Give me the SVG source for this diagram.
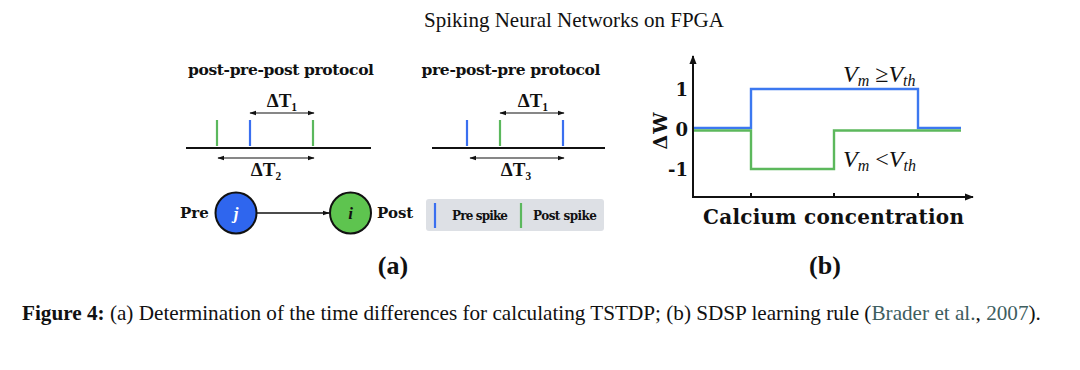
<svg xmlns="http://www.w3.org/2000/svg" width="1080" height="370" viewBox="0 0 1080 370">
<defs>
<style>
.serif{font-family:"Liberation Serif","DejaVu Serif",serif;fill:#111}
.b{font-weight:bold}
.pal{font-family:"DejaVu Serif","Liberation Serif",serif;font-weight:bold;fill:#111}
.heavy{font-family:"DejaVu Serif","Liberation Serif",serif;font-weight:bold;fill:#111}
.thin{stroke:#111;stroke-width:1.2;fill:none}
.base{stroke:#111;stroke-width:2.2}
.bl{stroke:#3a6ff0;stroke-width:2.2}
.gr{stroke:#5bb85d;stroke-width:2.2}
.plotb{stroke:#3c78f0;stroke-width:2.4;fill:none}
.plotg{stroke:#5cb85c;stroke-width:2.4;fill:none}
.axis{stroke:#111;stroke-width:2;fill:none}
</style>
<marker id="ah" viewBox="0 0 10 10" refX="9" refY="5" markerWidth="7" markerHeight="7" orient="auto-start-reverse" markerUnits="userSpaceOnUse"><path d="M0,1.5 L10,5 L0,8.5 z" fill="#111"/></marker>
<marker id="axh" viewBox="0 0 10 10" refX="9" refY="5" markerWidth="9" markerHeight="9" orient="auto" markerUnits="userSpaceOnUse"><path d="M0,1 L10,5 L0,9 z" fill="#111"/></marker>
</defs>
<rect width="1080" height="370" fill="#fff"/>
<text class="serif" x="574" y="27" font-size="21" text-anchor="middle">Spiking Neural Networks on FPGA</text>

<g id="panel-a-left">
<text class="pal" x="281" y="75" font-size="15.5" text-anchor="middle" textLength="186">post-pre-post protocol</text>
<text class="serif b" x="282" y="107" font-size="19" text-anchor="middle">ΔT₁</text>
<line class="bl" x1="250" y1="120" x2="250" y2="146"/>
<line class="gr" x1="217" y1="120" x2="217" y2="146"/>
<line class="gr" x1="313" y1="120" x2="313" y2="146"/>
<line class="base" x1="186" y1="148" x2="371" y2="148"/>
<text class="serif b" x="266" y="176" font-size="19" text-anchor="middle">ΔT₂</text>
</g>
<g id="panel-a-right">
<text class="pal" x="511" y="75" font-size="15.5" text-anchor="middle" textLength="179">pre-post-pre protocol</text>
<text class="serif b" x="533" y="107" font-size="19" text-anchor="middle">ΔT₁</text>
<line class="bl" x1="467" y1="120" x2="467" y2="146"/>
<line class="gr" x1="500" y1="120" x2="500" y2="146"/>
<line class="bl" x1="563" y1="120" x2="563" y2="146"/>
<line class="base" x1="432" y1="148" x2="605" y2="148"/>
<text class="serif b" x="516" y="176" font-size="19" text-anchor="middle">ΔT₃</text>
</g>
<g id="node-j">
<text class="pal" x="180" y="218" font-size="15">Pre</text>
<circle cx="236" cy="213" r="20.5" fill="#2f66ee" stroke="#111" stroke-width="2"/>
<text x="236" y="219" font-family="Liberation Serif,serif" font-style="italic" font-weight="bold" font-size="17" fill="#fff" text-anchor="middle">j</text>
</g>
<g id="node-i">
<circle cx="350.5" cy="213" r="20.5" fill="#5ec44f" stroke="#111" stroke-width="2"/>
<text x="350.5" y="219" font-family="Liberation Serif,serif" font-style="italic" font-weight="bold" font-size="17" fill="#111" text-anchor="middle">i</text>
<text class="pal" x="377" y="218" font-size="15">Post</text>
</g>
<g id="legend">
<rect x="426" y="199" width="178" height="32" rx="3" fill="#dde0e5"/>
<line class="bl" x1="435" y1="203" x2="435" y2="228"/>
<text class="pal" x="452" y="220" font-size="12" textLength="56">Pre spike</text>
<line class="gr" x1="521" y1="203" x2="521" y2="228"/>
<text class="pal" x="533" y="220" font-size="12" textLength="64">Post spike</text>
</g>
<g id="connectors">
<line class="thin" x1="250" y1="113" x2="314" y2="113" marker-start="url(#ah)" marker-end="url(#ah)"/>
<line class="thin" x1="218" y1="158" x2="314" y2="158" marker-start="url(#ah)" marker-end="url(#ah)"/>
<line class="thin" x1="500" y1="113" x2="564" y2="113" marker-start="url(#ah)" marker-end="url(#ah)"/>
<line class="thin" x1="470" y1="158" x2="564" y2="158" marker-start="url(#ah)" marker-end="url(#ah)"/>
<line x1="257" y1="213" x2="329" y2="213" stroke="#111" stroke-width="1.6" marker-end="url(#ah)"/>
</g>
<text class="serif b" x="393" y="274" font-size="26" text-anchor="middle">(a)</text>

<g id="panel-b">
<line class="axis" x1="693" y1="197" x2="693" y2="56" marker-end="url(#axh)"/>
<line class="axis" x1="692" y1="197" x2="973" y2="197" marker-end="url(#axh)"/>
<line class="axis" x1="751" y1="193" x2="751" y2="197" stroke-width="1.2"/>
<line class="axis" x1="834" y1="193" x2="834" y2="197" stroke-width="1.2"/>
<line class="axis" x1="918" y1="193" x2="918" y2="197" stroke-width="1.2"/>
<text class="heavy" x="688" y="96" font-size="18" text-anchor="end">1</text>
<text class="heavy" x="688" y="136" font-size="18" text-anchor="end">0</text>
<text class="heavy" x="688" y="176" font-size="18" text-anchor="end">-1</text>
<text class="heavy" transform="translate(667,131) rotate(-90)" font-size="19" text-anchor="middle" textLength="37">ΔW</text>
<polyline class="plotb" points="694,128 751,128 751,89 918,89 918,128 961,128"/>
<polyline class="plotg" points="694,130.5 751,130.5 751,169 834,169 834,130.5 961,130.5"/>
<text class="serif" x="843" y="82" font-size="24" font-style="italic">V<tspan font-size="16" dy="4">m</tspan><tspan dy="-4" font-style="normal"> ≥</tspan>V<tspan font-size="16" dy="4">th</tspan></text>
<text class="serif" x="843" y="167" font-size="24" font-style="italic">V<tspan font-size="16" dy="4">m</tspan><tspan dy="-4" font-style="normal"> &lt;</tspan>V<tspan font-size="16" dy="4">th</tspan></text>
<text class="heavy" x="703" y="224" font-size="20" textLength="261">Calcium concentration</text>
</g>
<text class="serif b" x="825" y="274" font-size="26" text-anchor="middle">(b)</text>

<text class="serif" x="22" y="320" font-size="21.2"><tspan font-weight="bold">Figure 4:</tspan> (a) Determination of the time differences for calculating TSTDP; (b) SDSP learning rule (<tspan fill="#3e5e5f">Brader et al.</tspan>, <tspan fill="#3e5e5f">2007</tspan>).</text>
</svg>
